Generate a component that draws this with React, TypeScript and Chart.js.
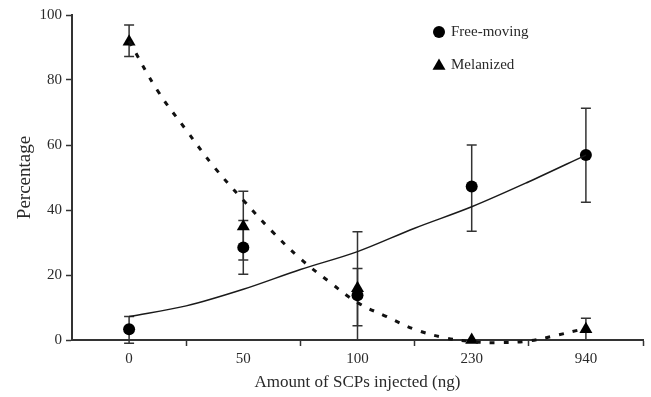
import React, { useEffect, useRef } from 'react';
import { Chart, registerables } from 'chart.js';
Chart.register(...registerables);

const categories = ['0', '50', '100', '230', '940'];
const freeMoving = [3.3, 28.5, 13.8, 47.2, 56.9];
const freeMovingErrUp = [3.9, 8.3, 8.2, 12.8, 14.4];
const freeMovingErrDown = [4.3, 8.3, 9.4, 13.7, 14.5];
const melanized = [91.8, 34.9, 15.9, 0, 3.3];
const melanizedErrUp = [5.1, 10.9, 17.4, 0, 3.4];
const melanizedErrDown = [4.6, 10.3, 15.9, 0, 3.3];
const freeTrendX = [0, 0.5, 1, 1.5, 2, 2.5, 3, 3.5, 4];
const freeTrendY = [7.2, 10.5, 15.6, 21.7, 27.2, 34.4, 41, 48.7, 56.9];
const melTrendX = [0, 0.25, 0.5, 0.75, 1, 1.25, 1.5, 1.75, 2, 2.25, 2.5, 2.75, 3, 3.25, 3.5, 3.75, 4];
const melTrendY = [92, 76.7, 64.6, 53, 43, 33.5, 25, 18, 11.5, 7.3, 3.3, 0.8, -0.5, -0.8, -0.3, 1.5, 3.6];
const yTicks = [0, 20, 40, 60, 80, 100];
const xTitle = 'Amount of SCPs injected (ng)';
const yTitle = 'Percentage';
const seriesNames = ['Free-moving', 'Melanized'];

const FONT = '"Liberation Serif", "Times New Roman", serif';
const INK = '#2a2a2a';

function drawTriangle(ctx: CanvasRenderingContext2D, x: number, y: number, r: number) {
  ctx.beginPath();
  ctx.moveTo(x, y - r);
  ctx.lineTo(x + r * Math.sin((2 * Math.PI) / 3), y - r * Math.cos((2 * Math.PI) / 3));
  ctx.lineTo(x + r * Math.sin((4 * Math.PI) / 3), y - r * Math.cos((4 * Math.PI) / 3));
  ctx.closePath();
  ctx.fill();
}

const errorBars = {
  id: 'errorBars',
  beforeDatasetsDraw(chart: any) {
    const { ctx, scales } = chart;
    const x = scales.x;
    const y = scales.y;
    ctx.save();
    ctx.strokeStyle = '#333';
    ctx.lineWidth = 1.5;
    const draw = (vals: number[], up: number[], down: number[]) => {
      vals.forEach((v, i) => {
        if (!up[i] && !down[i]) return;
        const px = x.getPixelForValue(i);
        const top = y.getPixelForValue(v + up[i]);
        const bot = y.getPixelForValue(v - down[i]);
        ctx.beginPath();
        ctx.moveTo(px, top);
        ctx.lineTo(px, bot);
        ctx.moveTo(px - 5, top);
        ctx.lineTo(px + 5, top);
        ctx.moveTo(px - 5, bot);
        ctx.lineTo(px + 5, bot);
        ctx.stroke();
      });
    };
    draw(freeMoving, freeMovingErrUp, freeMovingErrDown);
    draw(melanized, melanizedErrUp, melanizedErrDown);
    ctx.restore();
  },
};

const legendBox = {
  id: 'legendBox',
  afterDraw(chart: any) {
    const { ctx } = chart;
    ctx.save();
    ctx.fillStyle = '#000';
    ctx.beginPath();
    ctx.arc(439, 32, 6, 0, Math.PI * 2);
    ctx.fill();
    drawTriangle(ctx, 439, 66, 7.5);
    ctx.fillStyle = INK;
    ctx.font = `15px ${FONT}`;
    ctx.textAlign = 'left';
    ctx.textBaseline = 'middle';
    ctx.fillText(seriesNames[0], 451, 32);
    ctx.fillText(seriesNames[1], 451, 65);
    ctx.restore();
  },
};

export default function App() {
  const ref = useRef<HTMLCanvasElement>(null);
  useEffect(() => {
    if (!ref.current) return;
    const chart = new Chart(ref.current, {
      type: 'scatter',
      data: {
        datasets: [
          {
            label: 'Free-moving trend',
            data: freeTrendX.map((x, i) => ({ x, y: freeTrendY[i] })),
            showLine: true,
            borderColor: '#1a1a1a',
            borderWidth: 1.5,
            pointRadius: 0,
            cubicInterpolationMode: 'monotone',
            clip: false,
          } as any,
          {
            label: 'Melanized trend',
            data: melTrendX.map((x, i) => ({ x, y: melTrendY[i] })),
            showLine: true,
            borderColor: '#111',
            borderWidth: 3,
            borderDash: [5, 9],
            pointRadius: 0,
            tension: 0.4,
            clip: false,
          } as any,
          {
            label: seriesNames[0],
            data: freeMoving.map((v, i) => ({ x: i, y: v })),
            pointStyle: 'circle',
            pointRadius: 6,
            backgroundColor: '#000',
            borderColor: '#000',
            borderWidth: 0,
            clip: false,
          } as any,
          {
            label: seriesNames[1],
            data: melanized.map((v, i) => ({ x: i, y: v })),
            pointStyle: 'triangle',
            pointRadius: 7.5,
            backgroundColor: '#000',
            borderColor: '#000',
            borderWidth: 0,
            clip: false,
          } as any,
        ],
      },
      options: {
        animation: false,
        responsive: false,
        events: [],
        layout: { padding: { top: 15, right: 8, left: 0, bottom: 0 } },
        plugins: { legend: { display: false }, tooltip: { enabled: false } },
        scales: {
          x: {
            type: 'linear',
            min: -0.5,
            max: 4.5,
            afterBuildTicks: (scale: any) => {
              const t = [];
              for (let k = 0; k <= 10; k++) t.push({ value: -0.5 + k * 0.5 });
              scale.ticks = t;
            },
            afterFit: (scale: any) => {
              scale.height = 57;
            },
            grid: {
              drawOnChartArea: false,
              tickLength: 6,
              tickWidth: 1.5,
              tickColor: (ctx: any) => {
                const v = ctx.tick ? ctx.tick.value : 0;
                return Number.isInteger(v) || v === -0.5 ? 'rgba(0,0,0,0)' : '#333';
              },
            },
            border: { color: '#333', width: 2 },
            ticks: {
              padding: 4,
              color: INK,
              font: { family: FONT, size: 15 },
              autoSkip: false,
              maxRotation: 0,
              callback: (v: any) => {
                const n = Number(v);
                return Number.isInteger(n) ? categories[n] : '';
              },
            },
            title: {
              display: true,
              text: xTitle,
              color: INK,
              font: { family: FONT, size: 17 },
              padding: { top: 4, bottom: 4 },
            },
          },
          y: {
            min: 0,
            max: 100,
            afterBuildTicks: (scale: any) => {
              scale.ticks = yTicks.map((value) => ({ value }));
            },
            afterFit: (scale: any) => {
              scale.width = 72;
            },
            grid: {
              drawOnChartArea: false,
              tickLength: 6,
              tickWidth: 1.5,
              tickColor: '#333',
            },
            border: { color: '#333', width: 2 },
            ticks: {
              padding: 4,
              color: INK,
              font: { family: FONT, size: 15 },
            },
            title: {
              display: true,
              text: yTitle,
              color: INK,
              font: { family: FONT, size: 19 },
              padding: { top: 14, bottom: 14 },
            },
          },
        },
      } as any,
      plugins: [errorBars, legendBox],
    });
    return () => chart.destroy();
  }, []);
  return (
    <div style={{ position: 'absolute', left: 0, top: 0, width: 651, height: 397, background: '#fff' }}>
      <canvas ref={ref} width={651} height={397} />
    </div>
  );
}
